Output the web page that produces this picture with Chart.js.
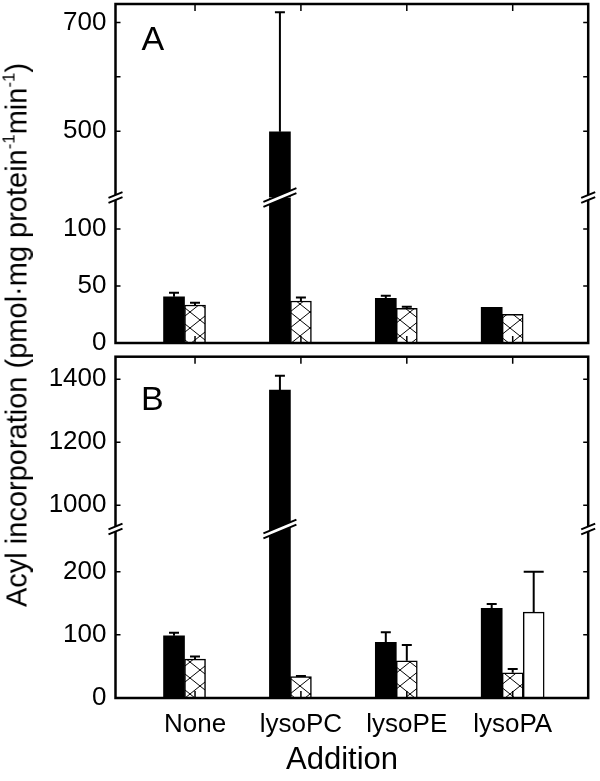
<!DOCTYPE html>
<html>
<head>
<meta charset="utf-8">
<script src="https://cdn.jsdelivr.net/npm/chart.js@4.4.1/dist/chart.umd.min.js"></script>
<style>
  body { margin: 0; background: #fff; }
  #wrap { position: relative; width: 600px; height: 781px; font-family: "Liberation Sans", Arial, sans-serif; color: #000; }
  canvas { position: absolute; left: 0; }
  #chartA { top: 0; }
  #chartB { top: 350px; }
  .panel { position: absolute; font-size: 34px; line-height: 1; }
  #ytitle { position: absolute; left: 17px; top: 335px; white-space: nowrap; font-size: 29px; line-height: 1;
            transform: translate(-50%, -50%) rotate(-90deg); }
  #ytitle sup { font-size: 58%; vertical-align: 0.7em; line-height: 0; }
  #xtitle { position: absolute; left: 342px; top: 758px; white-space: nowrap; font-size: 31px; line-height: 1;
            transform: translate(-50%, -50%); }
</style>
</head>
<body>
<div id="wrap">
  <canvas id="chartA" width="600" height="360"></canvas>
  <canvas id="chartB" width="600" height="431"></canvas>
  <div class="panel" style="left:141.5px; top:21px">A</div>
  <div class="panel" style="left:141px; top:381px">B</div>
  <div id="ytitle">Acyl incorporation (pmol·mg protein<sup>-1</sup>min<sup>-1</sup>)</div>
  <div id="xtitle">Addition</div>
</div>
<script>
// categories on the x axis (placed at 1..4 on a linear scale)
const categories = ['None', 'lysoPC', 'lysoPE', 'lysoPA'];
const catPos = [1, 2, 3, 4];
const xRange = [0.249, 4.713];

// panel A values and upper error
const aBlack = [40.5, 499, 39.2, 31.3];
const aBlackErr = [3.5, 220, 2.3, 0];
const aHatch = [33.3, 36.8, 30.4, 25.2];
const aHatchErr = [2, 3, 1.4, 0];
const aWhite = [null, null, null, null];
const aWhiteErr = [0, 0, 0, 0];

// panel B values and upper error
const bBlack = [98.4, 1366, 88, 142];
const bBlackErr = [5, 45, 16, 7];
const bHatch = [61.6, 34, 59, 40];
const bHatchErr = [4, 1, 25, 6];
const bWhite = [null, null, null, 136];
const bWhiteErr = [0, 0, 0, 64];

// broken y axes: upper and lower segment of each panel
const aUpperRange = [378, 734];
const aLowerRange = [0, 127.6];
const aUpperTicks = [500, 600, 700];
const aUpperLabels = ['500', '', '700'];
const aLowerTicks = [0, 50, 100];
const bUpperRange = [924.8, 1471.7];
const bLowerRange = [0, 267.6];
const bUpperTicks = [1000, 1200, 1400];
const bLowerTicks = [0, 100, 200];

const font = size => ({ family: '"Liberation Sans", Arial, sans-serif', size });

// cross hatch fill for the second series
const hatch = (() => {
  const c = document.createElement('canvas');
  c.width = 20; c.height = 16;
  const g = c.getContext('2d');
  g.fillStyle = '#fff';
  g.fillRect(0, 0, 20, 16);
  g.strokeStyle = '#000';
  g.lineWidth = 1;
  g.beginPath();
  g.moveTo(-2, -1.6); g.lineTo(22, 17.6);
  g.moveTo(22, -1.6); g.lineTo(-2, 17.6);
  g.stroke();
  return g.createPattern(c, 'repeat');
})();

const styles = {
  black: { backgroundColor: '#000', borderColor: '#000', borderWidth: 0, capWidth: 10 },
  hatch: { backgroundColor: hatch, borderColor: '#000', borderWidth: 1.5, capWidth: 10 },
  white: { backgroundColor: '#fff', borderColor: '#000', borderWidth: 1.5, capWidth: 20 }
};

// every series is drawn once per axis segment, clipped to that segment
function panelDatasets(series) {
  const out = [];
  ['yUp', 'yLo'].forEach(axis => {
    series.forEach(([name, values, errors]) => {
      out.push({
        ...styles[name],
        stack: name,
        yAxisID: axis,
        data: values.map((v, i) => ({ x: catPos[i], y: v, err: errors[i] }))
      });
    });
  });
  return out;
}

function yScale(range, tickValues, tickLabels, weight, stackWeight) {
  return {
    type: 'linear', position: 'left', stack: 'panel', stackWeight, weight,
    min: range[0], max: range[1], stacked: false,
    grid: { display: false, drawTicks: false },
    border: { display: false },
    afterBuildTicks: s => { s.ticks = tickValues.map(v => ({ value: v })); },
    afterFit: s => { s.width = 115.5; s.paddingTop = 0; s.paddingBottom = 0; },
    ticks: {
      autoSkip: false, padding: 9, color: '#000', font: font(26),
      callback: v => tickLabels[tickValues.indexOf(v)]
    }
  };
}

function xScale(show) {
  const scale = {
    type: 'linear', position: 'bottom', min: xRange[0], max: xRange[1], offset: false,
    display: show,
    grid: { display: false, drawTicks: false, offset: false },
    border: { display: false },
    afterBuildTicks: s => { s.ticks = catPos.map(v => ({ value: v })); },
    ticks: {
      autoSkip: false, maxRotation: 0, padding: 11, color: '#000', font: font(26),
      callback: v => categories[catPos.indexOf(v)]
    }
  };
  if (show) scale.afterFit = s => { s.height = 83; s.paddingLeft = 0; s.paddingRight = 0; };
  return scale;
}

function breakMark(ctx, cx, y, half) {
  const k = 0.42, gap = 2.5;
  ctx.fillStyle = '#fff';
  ctx.beginPath();
  ctx.moveTo(cx - half, y - gap + k * half);
  ctx.lineTo(cx + half, y - gap - k * half);
  ctx.lineTo(cx + half, y + gap - k * half);
  ctx.lineTo(cx - half, y + gap + k * half);
  ctx.closePath();
  ctx.fill();
  ctx.beginPath();
  ctx.moveTo(cx - half, y - gap + k * half); ctx.lineTo(cx + half, y - gap - k * half);
  ctx.moveTo(cx - half, y + gap + k * half); ctx.lineTo(cx + half, y + gap - k * half);
  ctx.stroke();
}

// clipping per segment, error bars, frame with inward ticks and break marks
const panelDecor = {
  id: 'panelDecor',
  beforeDatasetDraw(chart, args) {
    const ctx = chart.ctx, area = chart.chartArea, ys = args.meta.yScale;
    ctx.save();
    ctx.beginPath();
    ctx.rect(area.left, ys.top, area.right - area.left, ys.bottom - ys.top);
    ctx.clip();
  },
  afterDatasetDraw(chart, args) {
    const ctx = chart.ctx, meta = args.meta, ds = chart.data.datasets[args.index];
    ctx.strokeStyle = '#000';
    ctx.lineWidth = 2;
    meta.data.forEach((bar, i) => {
      const pt = ds.data[i];
      if (pt.y == null || !pt.err) return;
      const yTop = meta.yScale.getPixelForValue(pt.y + pt.err);
      ctx.beginPath();
      ctx.moveTo(bar.x, bar.y);
      ctx.lineTo(bar.x, yTop);
      ctx.moveTo(bar.x - ds.capWidth / 2, yTop);
      ctx.lineTo(bar.x + ds.capWidth / 2, yTop);
      ctx.stroke();
    });
    ctx.restore();
  },
  afterDraw(chart) {
    const ctx = chart.ctx, a = chart.chartArea;
    const up = chart.scales.yUp, lo = chart.scales.yLo, xs = chart.scales.x;
    const yb = lo.top;
    ctx.save();
    ctx.strokeStyle = '#000';
    ctx.lineWidth = 2.5;
    ctx.strokeRect(a.left, a.top, a.right - a.left, a.bottom - a.top);

    ctx.lineWidth = 1.5;
    ctx.beginPath();
    [up, lo].forEach(s => s.ticks.forEach(t => {
      const y = s.getPixelForValue(t.value);
      ctx.moveTo(a.left, y); ctx.lineTo(a.left + 5, y);
      ctx.moveTo(a.right, y); ctx.lineTo(a.right - 5, y);
    }));
    catPos.forEach(v => {
      const x = xs.getPixelForValue(v);
      ctx.moveTo(x, a.top); ctx.lineTo(x, a.top + 7);
      ctx.moveTo(x, a.bottom); ctx.lineTo(x, a.bottom - 7);
    });
    ctx.stroke();

    ctx.lineWidth = 2;
    breakMark(ctx, a.left, yb, 7);
    breakMark(ctx, a.right, yb, 7);
    chart.data.datasets.forEach((ds, di) => {
      if (ds.yAxisID !== 'yLo') return;
      chart.getDatasetMeta(di).data.forEach((bar, i) => {
        if (ds.data[i].y > lo.max) breakMark(ctx, bar.x, yb, bar.width / 2 + 6);
      });
    });
    ctx.restore();
  }
};

function panelOptions(p) {
  return {
    responsive: false,
    animation: false,
    layout: { padding: p.padding },
    plugins: { legend: { display: false }, tooltip: { enabled: false } },
    datasets: { bar: { barThickness: 21, grouped: true } },
    scales: { x: p.x, yUp: p.yUp, yLo: p.yLo }
  };
}

new Chart(document.getElementById('chartA'), {
  type: 'bar',
  data: {
    datasets: panelDatasets([
      ['black', aBlack, aBlackErr],
      ['hatch', aHatch, aHatchErr],
      ['white', aWhite, aWhiteErr]
    ])
  },
  options: panelOptions({
    padding: { left: 0, right: 11.8, top: 4, bottom: 17 },
    x: xScale(false),
    yUp: yScale(aUpperRange, aUpperTicks, aUpperLabels, 1, 193.5),
    yLo: yScale(aLowerRange, aLowerTicks, aLowerTicks.map(String), 0, 145.5)
  }),
  plugins: [panelDecor]
});

new Chart(document.getElementById('chartB'), {
  type: 'bar',
  data: {
    datasets: panelDatasets([
      ['black', bBlack, bBlackErr],
      ['hatch', bHatch, bHatchErr],
      ['white', bWhite, bWhiteErr]
    ])
  },
  options: panelOptions({
    padding: { left: 0, right: 11.8, top: 6.7, bottom: 0 },
    x: xScale(true),
    yUp: yScale(bUpperRange, bUpperTicks, bUpperTicks.map(String), 1, 172.3),
    yLo: yScale(bLowerRange, bLowerTicks, bLowerTicks.map(String), 0, 169)
  }),
  plugins: [panelDecor]
});
</script>
</body>
</html>
